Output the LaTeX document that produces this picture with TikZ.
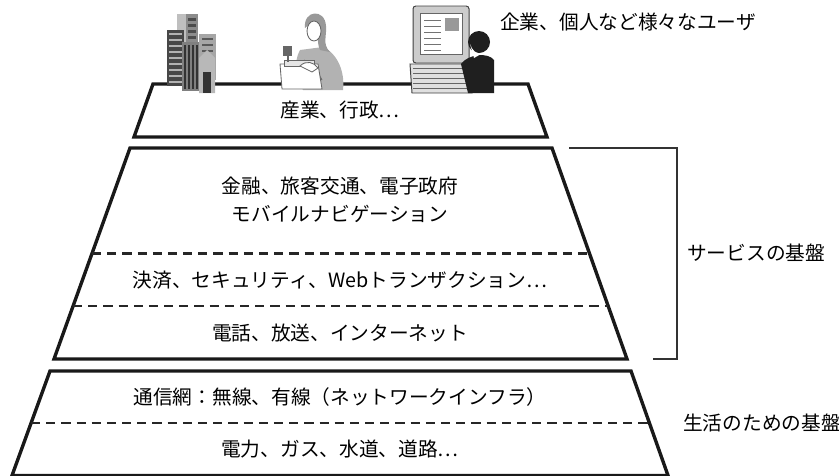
\documentclass[tikz,border=0pt]{standalone}
\usepackage{fontspec}
\setmainfont{Noto Sans CJK JP}
\usetikzlibrary{calc,positioning}
\tikzset{
  tier/.style={
    draw=black!90,
    line width=2.4pt,
    line join=miter
  },
  divider/.style={
    draw=black!85,
    line width=1.6pt,
    dash pattern=on 6.5pt off 4.3pt
  },
  layertext/.style={
    font=\fontsize{14}{20}\selectfont,
    inner sep=0pt,
    align=center
  },
  bracketline/.style={
    draw=black!80,
    line width=1.1pt
  }
}

\begin{document}
\begin{tikzpicture}[x=0.025cm,y=-0.025cm]
\useasboundingbox (0,0) rectangle (839,475);

% corners of the three tiers
\coordinate (a1) at (153,84);  \coordinate (a2) at (528,84);
\coordinate (a3) at (547,137); \coordinate (a4) at (134,137);
\coordinate (b1) at (130,148); \coordinate (b2) at (552,148);
\coordinate (b3) at (627,359); \coordinate (b4) at (54,359);
\coordinate (c1) at (50,371);  \coordinate (c2) at (631,371);
\coordinate (c3) at (668,475.5); \coordinate (c4) at (12,475.5);

\draw[tier] (a1) -- (a2) -- (a3) -- (a4) -- cycle;
\draw[tier] (b1) -- (b2) -- (b3) -- (b4) -- cycle;
\draw[tier] (c1) -- (c2) -- (c3) -- (c4) -- cycle;

% dashed splits
\draw[divider] ($(b1)!0.5!(b4)$) -- ($(b2)!0.5!(b3)$);
\draw[divider] ($(b1)!0.75!(b4)$) -- ($(b2)!0.75!(b3)$);
\draw[divider] ($(c1)!0.5!(c4)$) -- ($(c2)!0.5!(c3)$);

% labels inside the tiers
\node[layertext] (top) at (340,110) {産業、行政⋯};
\node[layertext] (svc1) at (340,200) {金融、旅客交通、電子政府\\モバイルナビゲーション};
\node[layertext] (svc2) at (340,280) {決済、セキュリティ、Webトランザクション⋯};
\node[layertext] (svc3) at (340,333) {電話、放送、インターネット};
\node[layertext] (base1) at (340,397) {通信網：無線、有線（ネットワークインフラ）};
\node[layertext] (base2) at (340,449) {電力、ガス、水道、道路⋯};

% side labels
\node[layertext, anchor=west] (users) at (500,22) {企業、個人など様々なユーザ};
\node[layertext, anchor=west] (svcbase) at (687,253) {サービスの基盤};
\node[layertext, anchor=west] (lifebase) at (683,423) {生活のための基盤};

% bracket for the service tier
\coordinate (k1) at (569,148);
\coordinate (k2) at (677,148);
\coordinate (k3) at (677,359);
\coordinate (k4) at (653,359);
\draw[bracketline] (k1) -- (k2) -- (k3) -- (k4);

% office buildings
\fill[black!45] (177,14) rectangle (198,52);
\fill[black!25] (177,14) rectangle (186,52);
\foreach \yy in {18,24,...,46} \fill[black!70] (188,\yy) rectangle (196,\yy+3);
\fill[black!72] (167,30) rectangle (184,86);
\foreach \yy in {33,39,...,81} \fill[black!30] (169,\yy) rectangle (182,\yy+2);
\fill[black!50] (182,42) rectangle (201,91);
\foreach \xx in {184,188,...,198} \fill[black!80] (\xx,45) rectangle (\xx+2,89);
\fill[black!35] (199,34) rectangle (216,80);
\foreach \yy in {38,44,...,74} \fill[black!65] (202,\yy) rectangle (213,\yy+2);
\fill[black!28] (199,58) -- (207,50) -- (215,58) -- (215,93) -- (199,93) -- cycle;
\fill[black!80] (203,72) rectangle (211,93);

% clerk at a cash register
\fill[black!30] (300,50) .. controls (293,62) and (296,80) .. (303,90) -- (343,90) .. controls (345,72) and (338,54) .. (323,47) -- cycle;
\draw[black!60, line width=0.6pt] (304,60) .. controls (312,66) and (318,72) .. (322,80);
\fill[black!40] (305,28) .. controls (303,10) and (325,8) .. (326,26) .. controls (327,36) and (322,44) .. (330,52) -- (320,50) .. controls (316,42) and (320,30) .. (312,22) -- cycle;
\draw[black!60, fill=white, line width=0.6pt] (314,31) ellipse (7 and 10);
\draw[black!60, fill=white, line width=0.6pt] (280,64) -- (318,64) -- (322,89) -- (282,89) -- cycle;
\draw[black!60, fill=black!10, line width=0.6pt] (284,60) rectangle (314,66);
\fill[black!60] (283,46) rectangle (292,56);
\draw[black!60, line width=0.8pt] (288,56) -- (288,62);
\draw[black!60, fill=white, line width=0.6pt] (300,66) .. controls (306,60) and (314,62) .. (318,68) -- (312,72) -- cycle;

% person at a computer
\draw[black!75, fill=black!20, line width=0.7pt, rounded corners=2pt] (413,6) rectangle (469,63);
\draw[black!60, fill=white, line width=0.6pt] (420,13) rectangle (462,54);
\foreach \yy in {20,26,...,50} \draw[black!55, line width=0.6pt] (424,\yy) -- (441,\yy);
\fill[black!40] (445,18) rectangle (459,31);
\draw[black!75, fill=black!12, line width=0.7pt] (410,64) -- (466,64) -- (472,93) -- (412,93) -- cycle;
\foreach \yy in {68,73,...,88} \draw[black!60, line width=0.6pt] (413,\yy) -- (467,\yy);
\fill[black!88] (479,42) circle (11);
\fill[black!88] (461,64) .. controls (468,54) and (488,52) .. (494,60) -- (494,93) -- (468,93) -- cycle;
\fill[white] (470,44) .. controls (472,50) and (476,54) .. (481,54) -- (474,58) -- cycle;
\end{tikzpicture}
\end{document}
